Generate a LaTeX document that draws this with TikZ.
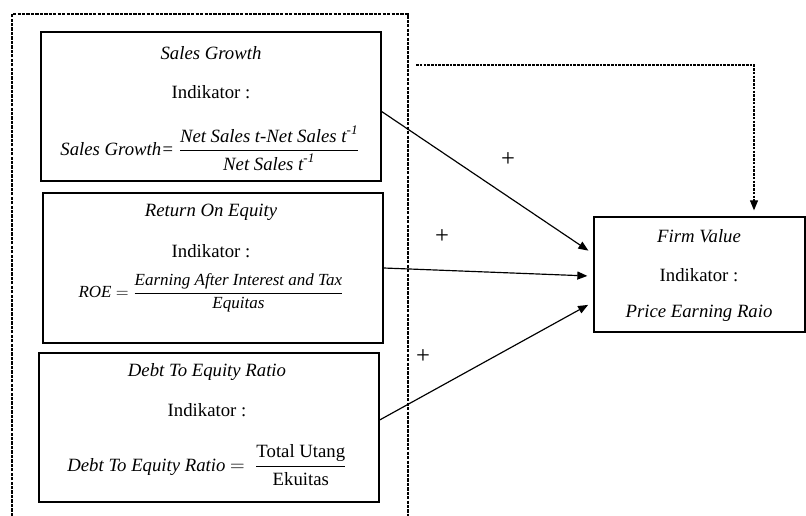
\documentclass[tikz,border=0pt]{standalone}
\usepackage{amsmath}
\usepackage{fontspec}
\setmainfont{Liberation Serif}
\usetikzlibrary{arrows.meta,positioning}

\tikzset{
  varbox/.style={rectangle,draw=black,line width=1.1pt,minimum width=10.2cm,minimum height=4.47cm},
  txt/.style={inner sep=0pt,font=\fontsize{16}{19}\selectfont},
  smalltxt/.style={inner sep=0pt,font=\fontsize{14.5}{17}\selectfont},
  signtxt/.style={inner sep=0pt,font=\fontsize{21}{24}\selectfont},
  arr/.style={-{Triangle[length=3mm,width=2.4mm]},line width=1pt,shorten >=1.8mm},
}

\begin{document}
\begin{tikzpicture}[x=0.03cm,y=-0.03cm]
\useasboundingbox (0,0) rectangle (806,516);
% outer frame round the three variables
\draw[dash pattern=on 2.8pt off 1pt,line width=0.9pt] (12,516) -- (12,14) -- (408,14) -- (408,516);

% Sales Growth
\node[varbox] (sg) at (211,106.5) {};
\node[txt] (sgt) at (211,53) {\textit{Sales Growth}};
\node[txt] (sgi) at (211,92) {Indikator :};
\node[txt] (sgf) at (210,148) {\textit{Sales Growth=}\ $\dfrac{\textit{Net Sales t-Net Sales t}^{\textit{-1}}}{\textit{Net Sales t}^{\textit{-1}}}$};

% Return On Equity
\node[varbox,minimum height=4.5cm] (roe) at (213,268) {};
\node[txt] (roet) at (211,212) {\textit{Return On Equity}};
\node[txt] (roei) at (211,251) {Indikator :};
\node[smalltxt] (roef) at (211,293) {\textit{ROE} $=\dfrac{\textit{Earning After Interest and Tax}}{\textit{Equitas}}$};

% Debt To Equity Ratio
\node[varbox] (der) at (209,427.5) {};
\node[txt] (dert) at (207,372) {\textit{Debt To Equity Ratio}};
\node[txt] (deri) at (207,410) {Indikator :};
\node[txt] (derf) at (207,465) {\textit{Debt To Equity Ratio} $=\ \dfrac{\text{Total Utang}}{\text{Ekuitas}}$};

% Firm Value
\node[rectangle,draw=black,line width=1.1pt,minimum width=6.33cm,minimum height=3.45cm] (fv) at (699.5,274.5) {};
\node[txt] (fvt) at (699,236) {\textit{Firm Value}};
\node[txt] (fvi) at (699,275) {Indikator :};
\node[txt] (fvf) at (699,313) {\textit{Price Earning Raio}};

% signs
\node[signtxt] (p1) at (508,160) {+};
\node[signtxt] (p2) at (442,237) {+};
\node[signtxt] (p3) at (423,357) {+};

\draw[arr] ([yshift=-0.15cm]sg.east) -- ([yshift=0.615cm]fv.west);
\draw[arr] (roe.east) -- ([yshift=-0.05cm]fv.west);
\draw[arr] ([yshift=0.225cm]der.east) -- ([yshift=-0.825cm]fv.west);
\coordinate (ds) at (416,65);
\draw[arr,dash pattern=on 2.2pt off 1pt,line width=0.9pt] (ds) -| ([xshift=1.635cm]fv.north);

\end{tikzpicture}
\end{document}
